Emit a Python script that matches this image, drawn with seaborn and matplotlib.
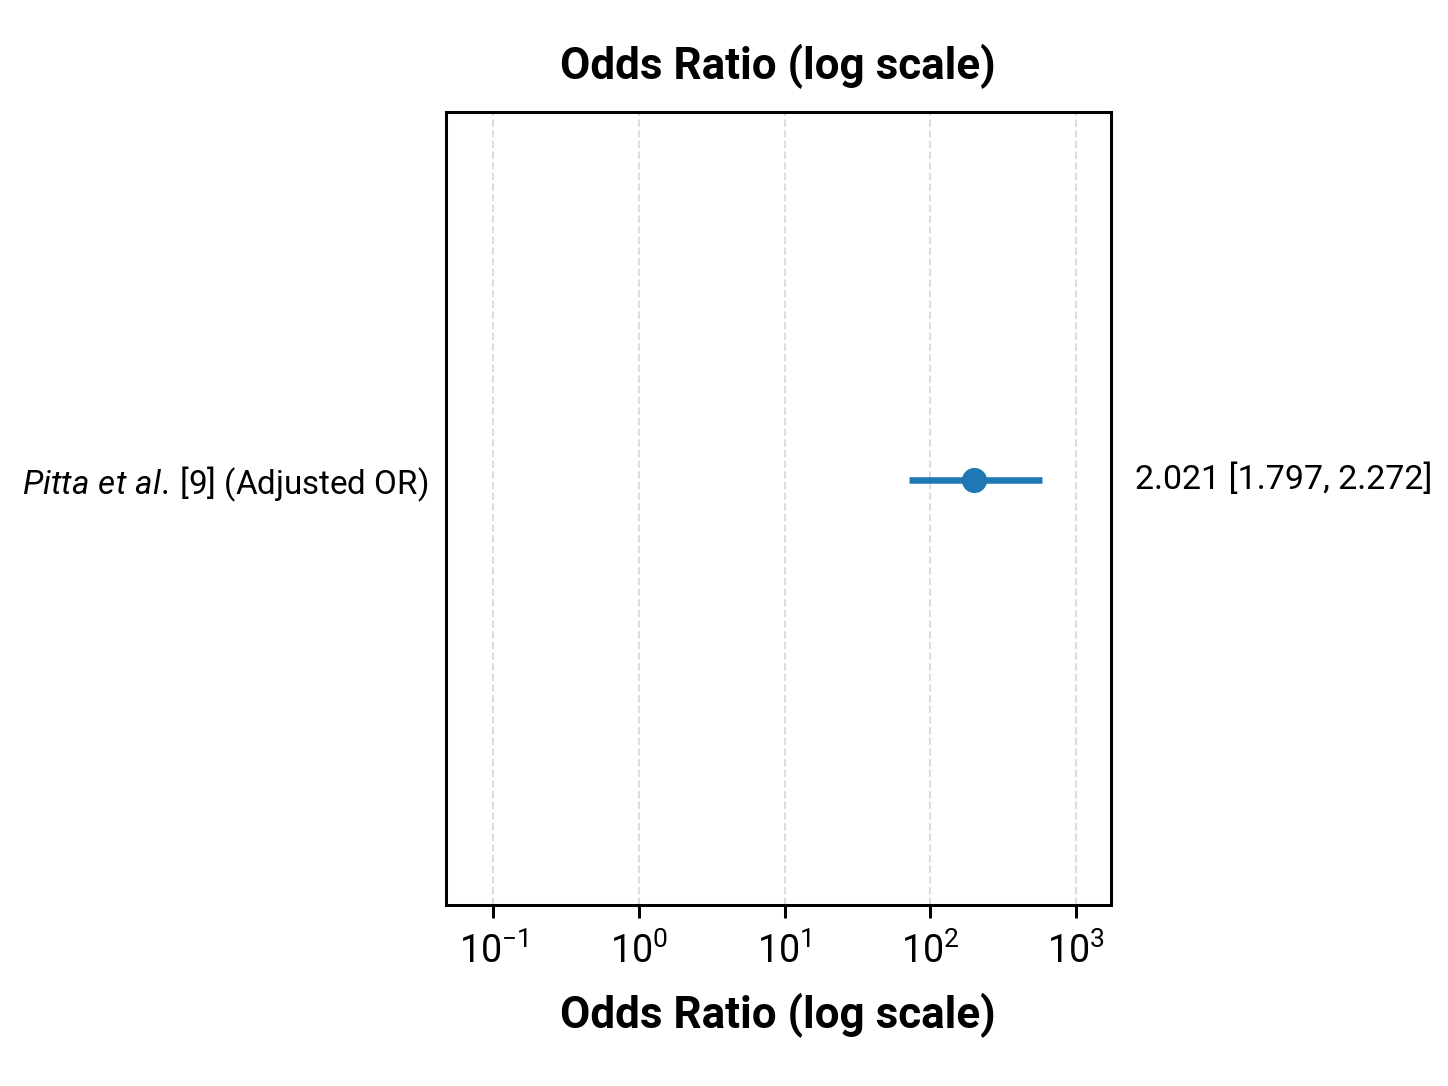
import pandas as pd
import numpy as np
import matplotlib.pyplot as plt
import seaborn as sns

# Data (as plotted on the log axis)
studies = [r'$\mathit{Pitta\ et\ al.}\,$[9] (Adjusted OR)']
or_plot = [200.0]
ci_low_plot = [71.0]
ci_high_plot = [582.0]
or_text = ['2.021 [1.797, 2.272]']

df = pd.DataFrame({'study': studies, 'OR': or_plot,
                   'low': ci_low_plot, 'high': ci_high_plot, 'txt': or_text})
df['y'] = np.arange(len(df))

sns.set_theme(style='ticks')
plt.rcParams['font.family'] = ['Roboto', 'DejaVu Sans']
plt.rcParams['mathtext.fontset'] = 'custom'
plt.rcParams['mathtext.rm'] = 'Roboto'
plt.rcParams['mathtext.it'] = 'Roboto:italic'
plt.rcParams['mathtext.bf'] = 'Roboto:bold'
plt.rcParams['text.color'] = 'black'
plt.rcParams['axes.labelcolor'] = 'black'
plt.rcParams['xtick.color'] = 'black'
plt.rcParams['ytick.color'] = 'black'

fig = plt.figure(figsize=(8, 6), dpi=181)
ax = fig.add_axes([0.308, 0.167, 0.459, 0.730])
ax.set_xscale('log')

# CI lines
ax.hlines(df['y'], df['low'], df['high'], color='#1f77b4', linewidth=2.6, zorder=2)
# point estimates
sns.scatterplot(data=df, x='OR', y='y', ax=ax, color='#1f77b4', s=100,
                edgecolor='#1f77b4', linewidth=0, zorder=3, legend=False)

for _, r in df.iterrows():
    ax.text(1.036, r['y'], r['txt'], transform=ax.get_yaxis_transform(),
            ha='left', va='center', fontsize=13.5, color='black')

ax.set_xlim(0.0473, 1733)
ax.set_ylim(-0.536, 0.464)
ax.set_yticks(df['y'])
ax.set_yticklabels(df['study'], fontsize=13.2)
ax.tick_params(axis='y', length=0, pad=7)
ax.tick_params(axis='x', which='major', labelsize=15, length=5, width=1.2, pad=6)
ax.tick_params(axis='x', which='minor', length=0)
ax.xaxis.grid(True, which='major', linestyle='--', color='#dddddd', linewidth=0.8)
ax.set_axisbelow(True)
for sp in ax.spines.values():
    sp.set_visible(True)
    sp.set_color('black')
    sp.set_linewidth(1.2)

ax.set_xlabel('Odds Ratio (log scale)', fontsize=17.5, fontweight='bold', labelpad=9)
ax.set_ylabel('')
ax.set_title('Odds Ratio (log scale)', fontsize=17.5, fontweight='bold', pad=13)

fig.savefig('out.png', dpi=181, facecolor='white')
